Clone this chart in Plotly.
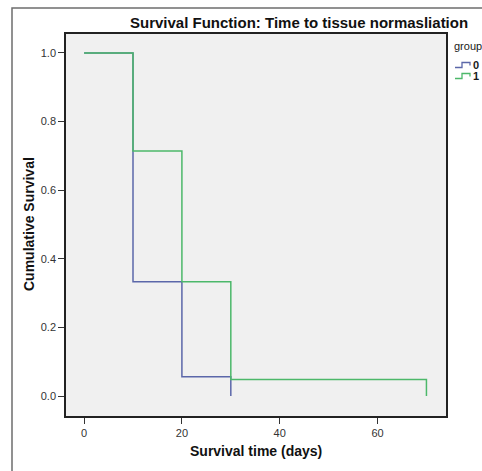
import plotly.graph_objects as go

# Data
group0_time = [0, 10, 20, 30]
group0_surv = [1.0, 0.333, 0.056, 0.0]
group1_time = [0, 10, 20, 30, 70]
group1_surv = [1.0, 0.714, 0.333, 0.048, 0.0]
x_ticks = [0, 20, 40, 60]
y_ticks = [0.0, 0.2, 0.4, 0.6, 0.8, 1.0]
y_tick_labels = ["0.0", "0.2", "0.4", "0.6", "0.8", "1.0"]

BLUE = "#5B67A9"
GREEN = "#4CB86A"
FONT = "Arial, Liberation Sans, sans-serif"

W, H = 482, 471
L, R, T, B = 66, 36, 34, 55
PW, PH = W - L - R, H - T - B

def px(x):
    return (x - L) / PW

def py(y):
    return (H - B - y) / PH

fig = go.Figure()
fig.add_trace(go.Scatter(x=group0_time, y=group0_surv, mode="lines", line_shape="hv",
                         line=dict(color=BLUE, width=1.5), name="0", showlegend=False))
fig.add_trace(go.Scatter(x=group1_time, y=group1_surv, mode="lines", line_shape="hv",
                         line=dict(color=GREEN, width=1.5), name="1", showlegend=False))

shapes = []
# outer frame
shapes.append(dict(type="rect", xref="paper", yref="paper",
                   x0=px(12), x1=px(520), y0=py(8), y1=py(520),
                   line=dict(color="#6E6E6E", width=1.5), fillcolor="rgba(0,0,0,0)", layer="below"))
# legend icons
def icon(yc, color):
    x0, x1, x2 = 455, 462, 470
    ylow, yhigh = yc + 2.5, yc - 2.5
    path = (f"M {px(x0)} {py(ylow)} L {px(x1)} {py(ylow)} L {px(x1)} {py(yhigh)} "
            f"L {px(x2)} {py(yhigh)} L {px(x2)} {py(yc + 0.5)}")
    return dict(type="path", xref="paper", yref="paper", path=path,
                line=dict(color=color, width=1.3))
shapes.append(icon(65, BLUE))
shapes.append(icon(76, GREEN))

TXT = "#1A1A1A"
annotations = [
    dict(text="<b>Survival Function: Time to tissue normasliation</b>", x=px(299), y=py(22),
         xref="paper", yref="paper", showarrow=False, xanchor="center", yanchor="middle",
         font=dict(family=FONT, size=15, color="#111111")),
    dict(text="group", x=px(452), y=py(46), xref="paper", yref="paper", showarrow=False,
         xanchor="left", yanchor="middle", font=dict(family=FONT, size=11, color=TXT)),
    dict(text="<b>0</b>", x=px(471), y=py(65), xref="paper", yref="paper", showarrow=False,
         xanchor="left", yanchor="middle", font=dict(family=FONT, size=11, color=TXT)),
    dict(text="<b>1</b>", x=px(471), y=py(76), xref="paper", yref="paper", showarrow=False,
         xanchor="left", yanchor="middle", font=dict(family=FONT, size=11, color=TXT)),
    dict(text="<b>Cumulative Survival</b>", x=px(29), y=py(224), xref="paper", yref="paper",
         showarrow=False, textangle=-90, xanchor="center", yanchor="middle",
         font=dict(family=FONT, size=14, color="#111111")),
    dict(text="<b>Survival time (days)</b>", x=px(256), y=py(451), xref="paper", yref="paper",
         showarrow=False, xanchor="center", yanchor="middle",
         font=dict(family=FONT, size=14, color="#111111")),
]

fig.update_layout(
    width=W, height=H,
    margin=dict(l=L, r=R, t=T, b=B),
    paper_bgcolor="white",
    plot_bgcolor="#F0F0F0",
    showlegend=False,
    shapes=shapes,
    annotations=annotations,
    font=dict(family=FONT, size=11, color="#333333"),
    xaxis=dict(range=[-3.7, 74], tickvals=x_ticks, showgrid=False, zeroline=False,
               showline=True, linecolor="#222222", linewidth=1.5, mirror=True,
               ticks="outside", ticklen=6, tickwidth=1.2, tickcolor="#333333",
               tickfont=dict(family=FONT, size=11, color="#333333")),
    yaxis=dict(range=[-0.058, 1.055], tickvals=y_ticks, ticktext=y_tick_labels,
               showgrid=False, zeroline=False,
               showline=True, linecolor="#222222", linewidth=1.5, mirror=True,
               ticks="outside", ticklen=6, tickwidth=1.2, tickcolor="#333333",
               tickfont=dict(family=FONT, size=11, color="#333333")),
)

fig.write_html("out.html")
